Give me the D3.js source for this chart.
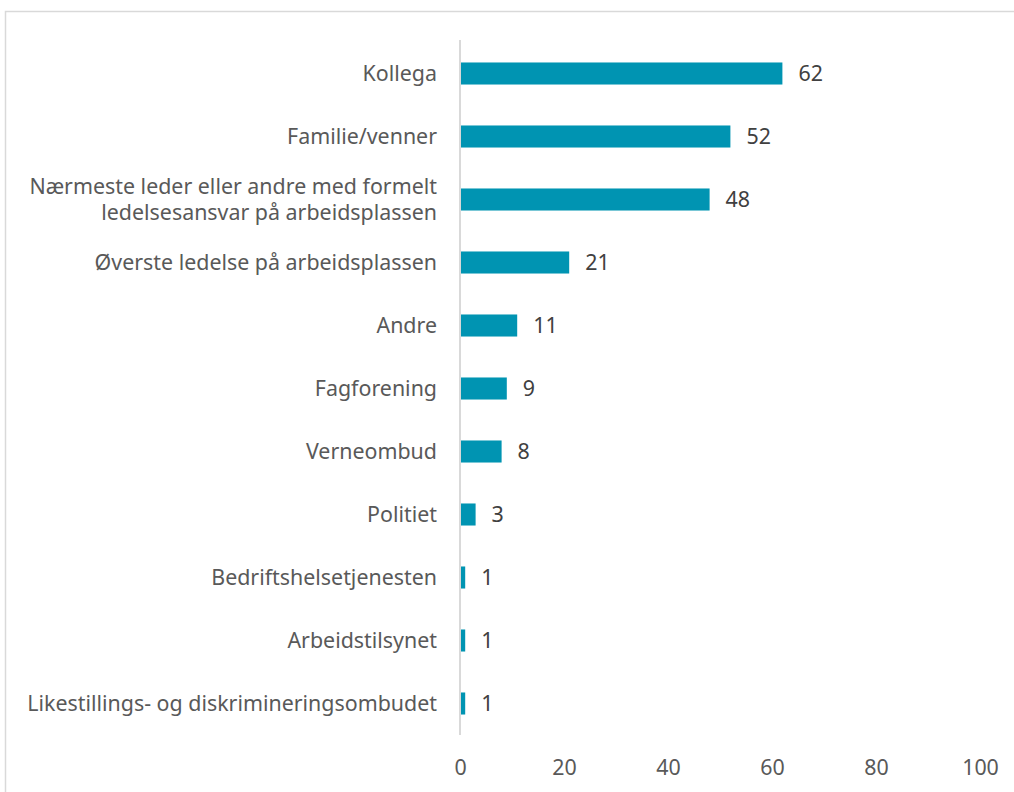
<!DOCTYPE html>
<html>
<head>
<meta charset="utf-8">
<script src="https://cdn.jsdelivr.net/npm/d3@7"></script>
<style>
  body { margin: 0; background: #fff; }
  svg { display: block; font-family: "Noto Sans", sans-serif; font-variant-ligatures: none; }
</style>
</head>
<body>
<div id="chart"></div>
<script>
const categories = [
  'Kollega',
  'Familie/venner',
  'Nærmeste leder eller andre med formelt|ledelsesansvar på arbeidsplassen',
  'Øverste ledelse på arbeidsplassen',
  'Andre',
  'Fagforening',
  'Verneombud',
  'Politiet',
  'Bedriftshelsetjenesten',
  'Arbeidstilsynet',
  'Likestillings- og diskrimineringsombudet'
];
const values = [62, 52, 48, 21, 11, 9, 8, 3, 1, 1, 1];
const xTicks = [0, 20, 40, 60, 80, 100];

const w = 1014;
const h = 792;
const plotLeft = 460;
const plotRight = 980;
const plotTop = 42;
const plotBottom = 735;
const fontSize = 21.4;

const svg = d3.select('#chart')
              .append('svg')
              .attr('width', w)
              .attr('height', h);

// chart frame
svg.append('rect')
   .attr('x', 5.5)
   .attr('y', 11.5)
   .attr('width', 1030)
   .attr('height', 800)
   .attr('fill', 'none')
   .attr('stroke', '#d9d9d9')
   .attr('stroke-width', 1.5);

const xScale = d3.scaleLinear()
                 .domain([0, 100])
                 .range([plotLeft, plotRight]);
const yScale = d3.scaleBand()
                 .domain(categories)
                 .range([plotTop, plotBottom])
                 .paddingInner(0.65)
                 .paddingOuter(0.325);

svg.selectAll('rect.bar')
   .data(values)
   .enter()
   .append('rect')
   .attr('class', 'bar')
   .attr('x', xScale(0))
   .attr('y', (d, i) => yScale(categories[i]))
   .attr('width', (d) => xScale(d) - xScale(0))
   .attr('height', yScale.bandwidth())
   .attr('fill', '#0094b2');

svg.selectAll('text.value')
   .data(values)
   .enter()
   .append('text')
   .attr('class', 'value')
   .attr('x', (d) => xScale(d) + 16)
   .attr('y', (d, i) => yScale(categories[i]) + yScale.bandwidth() / 2)
   .attr('dy', '0.36em')
   .attr('font-size', fontSize)
   .attr('fill', '#404040')
   .text((d) => d);

// vertical axis line
svg.append('line')
   .attr('x1', xScale(0))
   .attr('x2', xScale(0))
   .attr('y1', 40)
   .attr('y2', plotBottom)
   .attr('stroke', '#d9d9d9')
   .attr('stroke-width', 2);

// category labels
const labels = svg.selectAll('text.cat')
   .data(categories)
   .enter()
   .append('text')
   .attr('class', 'cat')
   .attr('text-anchor', 'end')
   .attr('font-size', fontSize)
   .attr('fill', '#595959')
   .attr('x', 437)
   .attr('y', (d) => yScale(d) + yScale.bandwidth() / 2);

labels.each(function (d) {
  const lines = d.split('|');
  const t = d3.select(this);
  lines.forEach((line, j) => {
    t.append('tspan')
     .attr('x', 437)
     .attr('dy', j === 0 ? (0.36 * fontSize - (lines.length - 1) * 13) : 26)
     .text(line);
  });
});

const xAxis = d3.axisBottom(xScale)
                .tickValues(xTicks)
                .tickSize(0)
                .tickPadding(0);

svg.append('g')
   .attr('transform', `translate(0, ${plotBottom + 25})`)
   .call(xAxis)
   .call((g) => g.select('.domain').remove())
   .call((g) => g.selectAll('text')
                 .attr('font-size', fontSize)
                 .attr('font-family', '"Noto Sans", sans-serif')
                 .attr('fill', '#595959'));
</script>
</body>
</html>
